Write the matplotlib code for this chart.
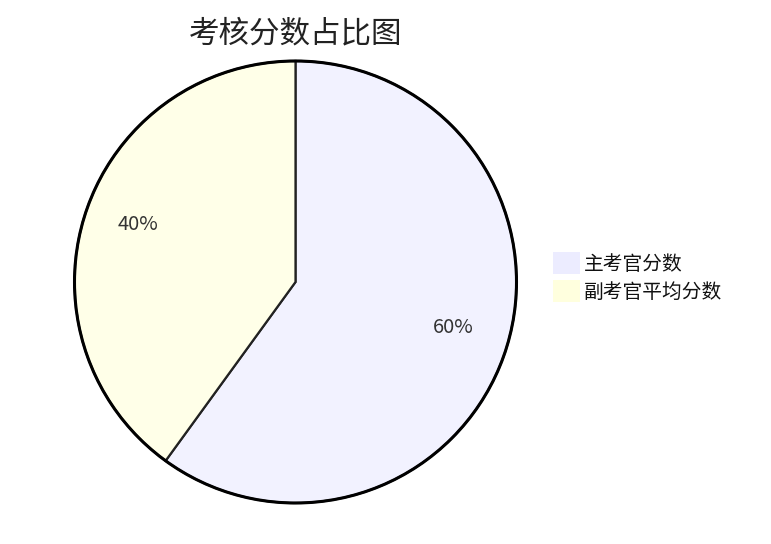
import matplotlib
matplotlib.use("Agg")
import matplotlib.pyplot as plt
from matplotlib.patches import Patch

plt.rcParams['font.family'] = ['Noto Sans CJK SC', 'DejaVu Sans']

title = "考核分数占比图"
categories = ["主考官分数", "副考官平均分数"]
values = [60, 40]
slice_colors = ["#F2F2FF", "#FFFFE8"]
legend_colors = ["#ECECFF", "#FFFFDE"]

W, H = 771, 544
fig = plt.figure(figsize=(W / 100, H / 100), dpi=100)
ax = fig.add_axes([0, 0, 1, 1])
ax.set_xlim(0, W)
ax.set_ylim(0, H)
ax.set_aspect('equal')
ax.axis('off')

cx, cy, r = 295.5, H - 282, 221
wedges, texts, autotexts = ax.pie(
    values, colors=slice_colors, startangle=90, counterclock=False,
    center=(cx, cy), radius=r, autopct='%1.0f%%', pctdistance=0.75,
    wedgeprops=dict(edgecolor='#222222', linewidth=1.6),
    textprops=dict(fontsize=14.5, color='#333333'))
for t in autotexts:
    x, y = t.get_position()
    t.set_position((x, y + 6))
ax.add_patch(plt.Circle((cx, cy), r, fill=False, edgecolor='black', linewidth=2.2))
ax.set_xlim(0, W)
ax.set_ylim(0, H)

fig.text(296 / W, 1 - 34 / H, title, ha='center', va='center', fontsize=22, color='#222222')

handles = [Patch(facecolor=c, edgecolor='none') for c in legend_colors]
leg = fig.legend(handles, categories, loc='upper left',
                 bbox_to_anchor=(553 / W, 1 - 252 / H), frameon=False,
                 fontsize=14.2, handlelength=1.35, handleheight=1.35,
                 handletextpad=0.22, labelspacing=0.28, borderpad=0, borderaxespad=0)
for t in leg.get_texts():
    t.set_color('#111111')

fig.savefig("out.png", dpi=100)
